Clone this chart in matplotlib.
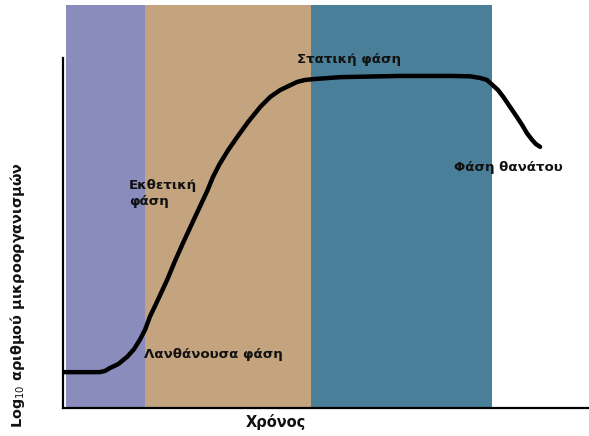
import matplotlib
matplotlib.use("Agg")
import matplotlib.pyplot as plt

# Bacterial growth curve: time vs log10 of cell count (arbitrary units)
time = [0, 5.1, 7.0, 8.0, 8.9, 10.5, 12.2, 13.5, 14.6, 15.6, 16.5, 18.1,
        19.8, 21.3, 22.8, 24.5, 26.0, 27.4, 28.5, 29.8, 31.4, 33.1, 35.2,
        37.5, 39.4, 41.3, 43.2, 44.5, 46.0, 47.5, 52.7, 64.1, 73.6, 77.4,
        79.3, 80.6, 81.7, 82.7, 83.7, 85.0, 86.3, 87.3, 88.2, 89.2, 89.9, 90.7]
log_count = [8.9, 8.9, 8.9, 9.2, 9.9, 10.9, 12.7, 14.6, 16.9, 19.4, 22.6, 27.0,
             31.8, 36.5, 40.9, 45.7, 49.9, 53.8, 57.3, 60.6, 64.0, 67.2, 71.0,
             74.7, 77.2, 78.9, 80.1, 80.9, 81.4, 81.6, 82.1, 82.4, 82.4, 82.3,
             81.9, 81.4, 80.1, 78.9, 77.2, 74.7, 72.2, 70.2, 68.2, 66.5, 65.5, 64.8]

# phase bands
phase_edges = [0.6, 15.6, 47.1, 81.6]
phase_colors = ["#8a8cbe", "#c4a47e", "#4a7f99"]

fig = plt.figure(figsize=(5.89, 4.36), dpi=100)
ax = fig.add_axes([63 / 589, 28 / 436, 526 / 589, 403 / 436])

for x0, x1, c in zip(phase_edges[:-1], phase_edges[1:], phase_colors):
    ax.axvspan(x0, x1, color=c, lw=0, zorder=0)

ax.plot(time, log_count, color="black", lw=3.2, solid_joinstyle="round",
        solid_capstyle="round", zorder=3)

ax.set_xlim(0, 100)
ax.set_ylim(0, 100)
ax.set_xticks([])
ax.set_yticks([])
for side in ("top", "right"):
    ax.spines[side].set_visible(False)
ax.spines["left"].set_bounds(0, 86.8)
ax.spines["left"].set_linewidth(1.6)
ax.spines["bottom"].set_linewidth(1.6)

font = dict(family="DejaVu Sans", weight="bold", size=9.6, color="#111111")
ax.text(12.5, 53.2, "Εκθετική\nφάση", ha="left", va="center", linespacing=1.25, **font)
ax.text(54.4, 86.4, "Στατική φάση", ha="center", va="center", **font)
ax.text(84.6, 59.8, "Φάση θανάτου", ha="center", va="center", **font)
ax.text(28.5, 13.2, "Λανθάνουσα φάση", ha="center", va="center", **font)

fig.text(276 / 589, 1 - 422 / 436, "Χρόνος", ha="center", va="center",
         family="DejaVu Sans", weight="bold", size=10.5, color="#111111")
fig.text(18 / 589, 1 - 295 / 436, r"Log$_{10}$ αριθμού μικροοργανισμών",
         rotation=90, ha="center", va="center",
         family="DejaVu Sans", weight="bold", size=10.4, color="#111111")

fig.savefig("out.png", dpi=100)
